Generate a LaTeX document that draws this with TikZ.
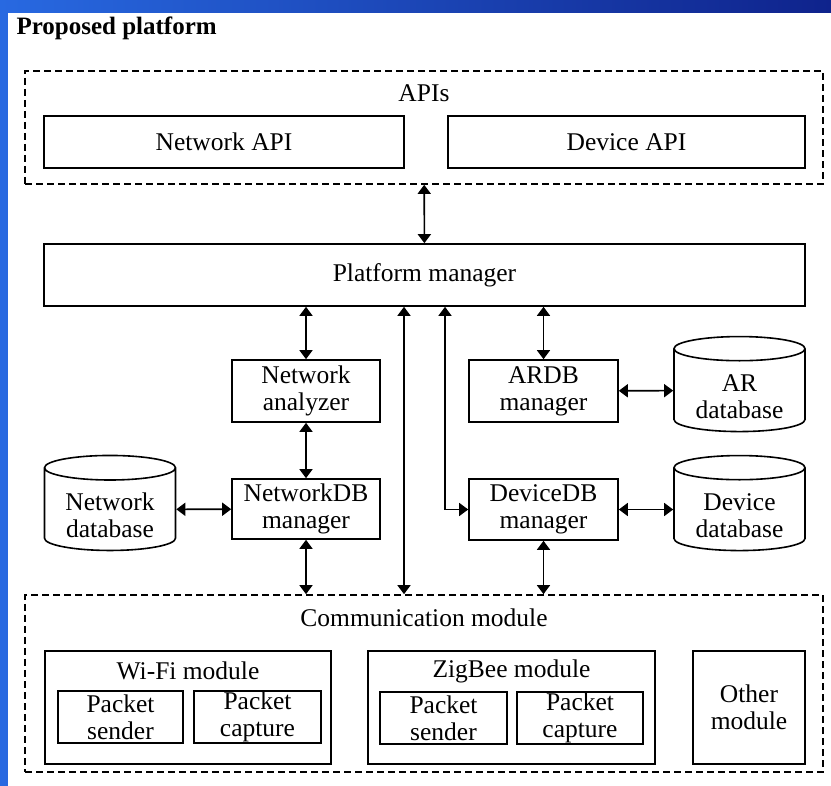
\documentclass[tikz,border=0pt]{standalone}
\usepackage{fontspec}
\setmainfont{Liberation Serif}
\usepackage{tikz}
\usetikzlibrary{arrows.meta, shapes.geometric}
\definecolor{bgleft}{RGB}{40,105,225}
\definecolor{bgright}{RGB}{15,35,140}
\newcommand{\dbstrut}{\rule{0pt}{29pt}}

\begin{document}
\begin{tikzpicture}[x=1pt, y=-1pt, font=\fontsize{25.5pt}{27pt}\selectfont]
\tikzstyle{box}=[draw, rectangle, line width=1.6pt, inner sep=0pt, align=center]
\tikzstyle{dbox}=[box, dash pattern=on 7pt off 4pt]
\tikzstyle{db}=[draw, cylinder, shape border rotate=90, aspect=0.275, line width=1.6pt, inner sep=0pt, align=center, minimum width=131pt, minimum height=95pt]
\tikzstyle{link}=[line width=1.6pt, {Triangle[length=9pt, width=13pt]}-{Triangle[length=9pt, width=13pt]}]

% background
\useasboundingbox (0,0) rectangle (831,786);
\shade[left color=bgleft, right color=bgright] (0,0) rectangle (831,786);
\fill[white] (8,13) rectangle (831,786);

\node[anchor=base west, font=\fontsize{25pt}{27pt}\selectfont\bfseries] (title) at (13,35) {Proposed platform};

% APIs
\node[dbox, minimum width=798pt, minimum height=113pt] (apis) at (424,127.5) {};
\node (apit) at (424,93) {APIs};
\node[box, minimum width=360pt, minimum height=52pt] (napi) at (224,142) {Network API};
\node[box, minimum width=357pt, minimum height=52pt] (dapi) at (626.5,142) {Device API};

\node[box, minimum width=761pt, minimum height=62pt] (pm) at (424.5,275) {Platform manager};

% managers and databases
\node[box, minimum width=148pt, minimum height=62pt] (nan) at (306,391) {Network\\analyzer};
\node[box, minimum width=148pt, minimum height=60pt] (ndbm) at (306,509) {NetworkDB\\manager};
\node[db] (ndb) at (110,509.5) {\dbstrut Network\\database};
\node[box, minimum width=149pt, minimum height=62pt] (ardb) at (543.5,391) {ARDB\\manager};
\node[db] (ardbase) at (739.5,390.5) {\dbstrut AR\\database};
\node[box, minimum width=149pt, minimum height=61pt] (ddbm) at (543.5,509.5) {DeviceDB\\manager};
\node[db] (ddb) at (739.5,509.5) {\dbstrut Device\\database};

% communication module
\node[dbox, minimum width=798pt, minimum height=177pt] (comm) at (424,683.5) {};
\node (commt) at (424,618) {Communication module};
\node[box, minimum width=286pt, minimum height=113pt] (wifi) at (188,707.5) {};
\node (wifit) at (188,671) {Wi-Fi module};
\node[box, minimum width=125pt, minimum height=52pt] (wps) at (120.5,717) {Packet\\sender};
\node[box, minimum width=127pt, minimum height=52pt] (wpc) at (257.5,717) {Packet\\capture};
\node[box, minimum width=287pt, minimum height=113pt] (zig) at (511.5,707.5) {};
\node (zigt) at (511.5,671) {ZigBee module};
\node[box, minimum width=127pt, minimum height=52pt] (zps) at (443.5,718) {Packet\\sender};
\node[box, minimum width=126pt, minimum height=52pt] (zpc) at (580,718) {Packet\\capture};
\node[box, minimum width=112pt, minimum height=113pt] (other) at (749,707.5) {Other\\module};

\coordinate (busx) at (404,0);
\coordinate (devx) at (445,0);

\path[link]
(apis) edge (pm)
(nan) edge (nan |- pm.south)
      edge (ndbm)
(ndbm) edge (ndbm |- comm.north)
       edge (ndb)
(ardb) edge (ardb |- pm.south)
       edge (ardbase)
(ddbm) edge (ddbm |- comm.north)
       edge (ddb)
(pm.south -| busx) edge (comm.north -| busx);
\draw[link] (pm.south -| devx) |- (ddbm.west);

\end{tikzpicture}
\end{document}
